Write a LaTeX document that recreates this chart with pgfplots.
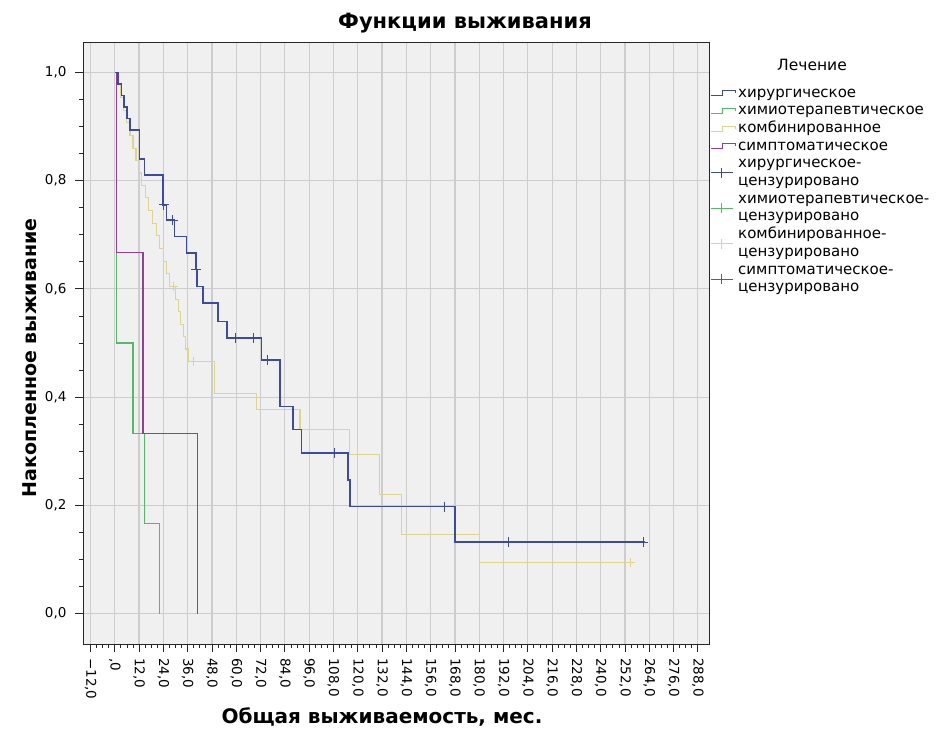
\documentclass[border=0pt]{standalone}
\usepackage{fontspec}
\setmainfont{DejaVu Sans}
\usepackage{pgfplots}
\pgfplotsset{compat=1.18}
\definecolor{bgg}{RGB}{240,240,240}
\definecolor{gridg}{RGB}{205,205,205}
\definecolor{cblue}{RGB}{60,74,160}
\definecolor{cgreen}{RGB}{85,185,105}
\definecolor{cyel}{RGB}{222,212,140}
\definecolor{cpurp}{RGB}{150,62,150}
\pgfplotsset{
 stepimg/.style={legend image code/.code={\path[draw=none,fill=none] (0pt,-1pt) rectangle (25pt,1pt);
   \draw[##1, overlay, line width=0.9pt] (0pt,-2.5pt) -- (11pt,-2.5pt) -- (11pt,2.5pt) -- (24pt,2.5pt) -- (24pt,0pt);}},
 censimg/.style={legend image code/.code={\path[draw=none,fill=none] (0pt,-1pt) rectangle (25pt,1pt);
   \draw[##1, overlay, line width=0.9pt] (0pt,-8.85pt) -- (22pt,-8.85pt);
   \draw[##1, overlay, line width=0.9pt] (10pt,-13.85pt) -- (10pt,-3.85pt);}},
}
\newcommand{\ls}{\rule[-5pt]{0pt}{17.7pt}}
\begin{document}
\begin{tikzpicture}
\path[use as bounding box] (0pt,0pt) rectangle (942pt,-740pt);
\begin{axis}[
 at={(83pt,-42pt)}, anchor=north west,
 scale only axis, width=626pt, height=602pt,
 xmin=-15.7, xmax=293.5, ymin=-0.056, ymax=1.056,
 axis background/.style={fill=bgg},
 axis line style={black!85, line width=0.8pt},
 xtick={-12,0,...,288},
 xticklabels={{−12,0},{,0},{12,0},{24,0},{36,0},{48,0},{60,0},{72,0},{84,0},{96,0},{108,0},{120,0},{132,0},{144,0},{156,0},{168,0},{180,0},{192,0},{204,0},{216,0},{228,0},{240,0},{252,0},{264,0},{276,0},{288,0}},
 ytick={0,0.2,0.4,0.6,0.8,1.0},
 yticklabels={{0,0},{0,2},{0,4},{0,6},{0,8},{1,0}},
 minor x tick num=3, minor y tick num=3,
 tick align=outside, xtick pos=left, ytick pos=left,
 major tick length=8pt, minor tick length=4pt,
 tick style={black!85, line width=0.8pt},
 xmajorgrids, ymajorgrids,
 major grid style={gridg, line width=1.2pt},
 xticklabel style={rotate=-90, anchor=west, font=\fontsize{13.5}{16}\selectfont, inner sep=1pt},
 yticklabel style={font=\fontsize{13.5}{16}\selectfont},
 xticklabel shift=5pt, yticklabel shift=5pt,
 legend cell align=left,
 legend style={draw=none, fill=none, at={(1.0032,0.930)}, anchor=north west,
   font=\fontsize{15}{17.7}\selectfont, row sep=0pt, column sep=2pt,
   inner sep=0pt, nodes={inner sep=0pt, text height=12.7pt, text depth=5pt}},
]
% combined (yellow)
\addplot[const plot, cyel, line width=1.1pt, forget plot] coordinates {
(0,1.0) (1.5,0.977) (3.0,0.953) (4.5,0.930) (6.0,0.907) (7.5,0.884) (9.0,0.860)
(10.5,0.837) (12.0,0.814) (13.2,0.791) (15.0,0.768) (16.8,0.744) (18.6,0.721)
(20.4,0.698) (22.2,0.674) (24.0,0.651) (25.6,0.628) (27.2,0.605) (29.8,0.581)
(31.3,0.558) (32.6,0.535) (33.8,0.512) (35.0,0.489) (36.2,0.466) (49.4,0.407)
(70.0,0.377) (91.5,0.340) (116.1,0.294) (130.9,0.220) (141.5,0.146) (180.3,0.095) (254.5,0.095)};
\addplot[only marks, mark=+, mark size=4.5pt, cyel, forget plot] coordinates {
(28.8,0.605) (38.7,0.466) (254.5,0.095)};
% chemo (green)
\addplot[const plot, cgreen, line width=1.2pt, forget plot] coordinates {
(0,1.0) (0.8,0.5) (9.0,0.333) (14.8,0.167) (22.2,0.0)};
% symptomatic (purple)
\addplot[const plot, cpurp, line width=1.3pt, forget plot] coordinates {
(0,1.0) (0.8,0.667) (14.0,0.333) (40.8,0.0)};
% surgical (blue)
\addplot[const plot, cblue, line width=1.5pt, forget plot] coordinates {
(0,1.0) (1.5,0.978) (3.2,0.957) (4.6,0.936) (6.0,0.915) (7.4,0.893) (12.3,0.84)
(14.6,0.81) (23.9,0.755) (25.5,0.727) (29.6,0.697) (35.4,0.666) (40.0,0.636)
(40.6,0.604) (43.6,0.574) (51.0,0.540) (55.5,0.509) (72.4,0.469) (81.5,0.383)
(88.1,0.340) (92.2,0.297) (115.3,0.247) (116.1,0.198) (168.0,0.132) (261.9,0.132)};
\addplot[only marks, mark=+, mark size=5pt, cblue, line width=1pt, forget plot] coordinates {
(24.1,0.755) (28.7,0.727) (40.3,0.636) (59.5,0.509) (68.3,0.509) (75.4,0.469)
(108.7,0.297) (163.0,0.198) (194.3,0.132) (261.0,0.132)};
% legend
\addlegendimage{stepimg, cblue}
\addlegendentry{\ls хирургическое}
\addlegendimage{stepimg, cgreen}
\addlegendentry{\ls химиотерапевтическое}
\addlegendimage{stepimg, cyel}
\addlegendentry{\ls комбинированное}
\addlegendimage{stepimg, cpurp}
\addlegendentry{\ls симптоматическое}
\addlegendimage{censimg, cblue}
\addlegendentry{\ls хирургическое-}
\addlegendimage{empty legend}
\addlegendentry{\ls цензурировано}
\addlegendimage{censimg, cgreen}
\addlegendentry{\ls химиотерапевтическое-}
\addlegendimage{empty legend}
\addlegendentry{\ls цензурировано}
\addlegendimage{censimg, cyel}
\addlegendentry{\ls комбинированное-}
\addlegendimage{empty legend}
\addlegendentry{\ls цензурировано}
\addlegendimage{censimg, cpurp}
\addlegendentry{\ls симптоматическое-}
\addlegendimage{empty legend}
\addlegendentry{\ls цензурировано}
\end{axis}
\node[font=\bfseries\fontsize{21}{24}\selectfont] at (465pt,-23pt) {Функции выживания};
\node[font=\bfseries\fontsize{20}{24}\selectfont] at (382pt,-717pt) {Общая выживаемость, мес.};
\node[font=\bfseries\fontsize{19}{22}\selectfont, rotate=90] at (30pt,-358pt) {Накопленное выживание};
\node[font=\fontsize{15.5}{18}\selectfont] at (812pt,-65pt) {Лечение};
\end{tikzpicture}
\end{document}
